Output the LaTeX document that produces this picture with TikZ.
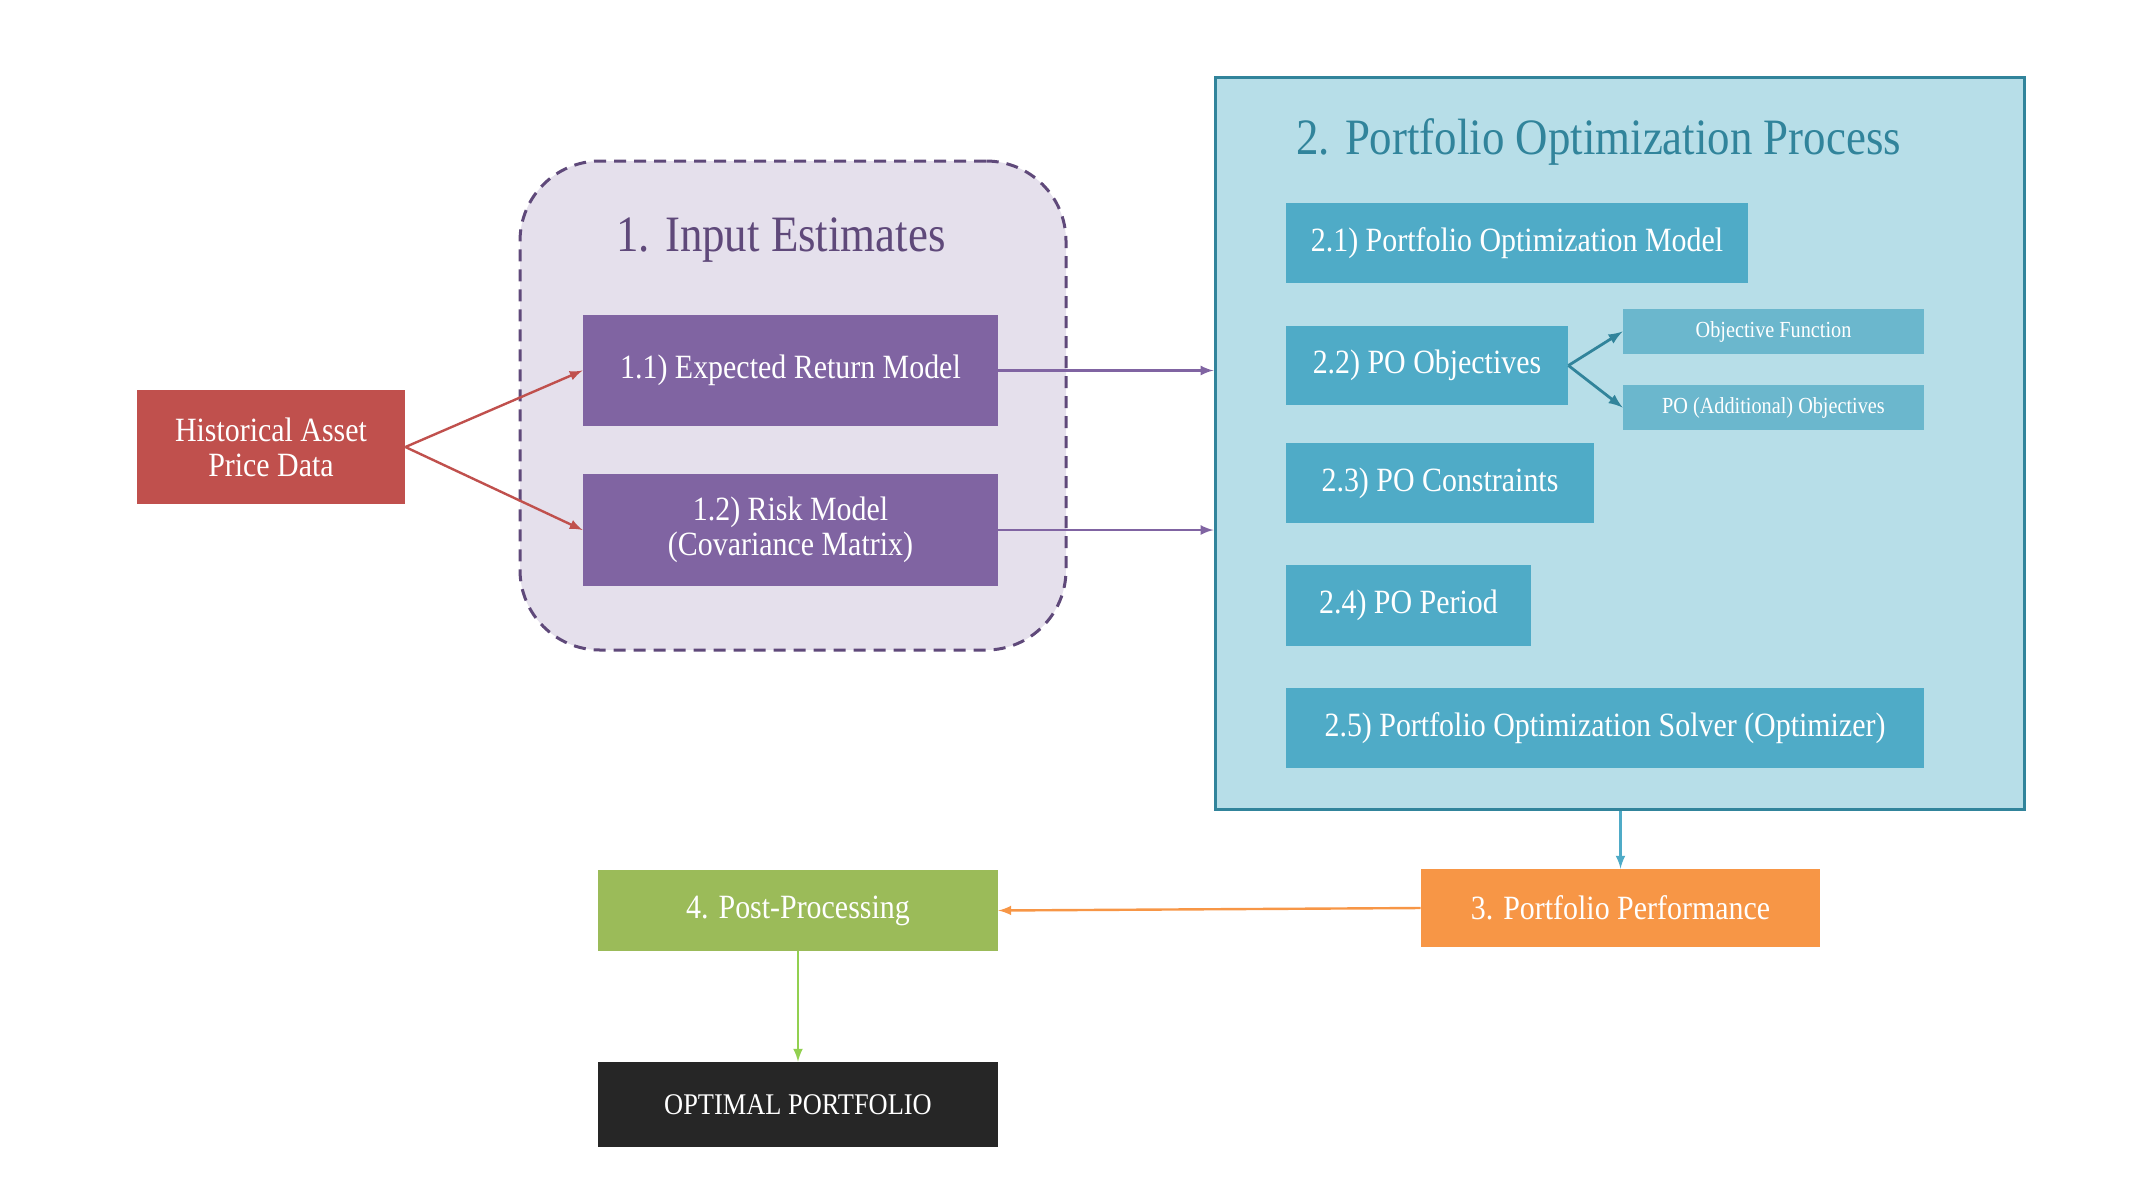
\documentclass[tikz,border=0pt]{standalone}
\usepackage{fontspec}
\setmainfont[FakeStretch=0.88]{Liberation Serif}
\usepackage{tikz}
\usetikzlibrary{positioning,shapes,arrows}

\definecolor{histred}{HTML}{C0504D}
\definecolor{inputlav}{HTML}{E5E0EC}
\definecolor{inputdark}{HTML}{5F497A}
\definecolor{inputfill}{HTML}{8064A2}
\definecolor{procbg}{HTML}{B7DEE8}
\definecolor{procdark}{HTML}{31849B}
\definecolor{procfill}{HTML}{4FABC7}
\definecolor{procsub}{HTML}{6BB7CD}
\definecolor{perforange}{HTML}{F79646}
\definecolor{postgreen}{HTML}{9BBB59}
\definecolor{optgreen}{HTML}{92D050}
\definecolor{optdark}{HTML}{262626}

\tikzstyle{object}=[rectangle, inner sep=0pt, text centered, align=center, text=white,
        font=\fontsize{17}{17.5}\selectfont]
\tikzstyle{histbox}=[object, fill=histred]
\tikzstyle{inputbox}=[object, fill=inputfill]
\tikzstyle{procbox}=[object, fill=procfill]
\tikzstyle{subbox}=[object, fill=procsub, font=\fontsize{11.5}{14}\selectfont]
\tikzstyle{group}=[rectangle, inner sep=0pt, line width=1.5pt]
\tikzstyle{title}=[inner sep=0pt, font=\fontsize{25.5}{30}\selectfont]
\tikzstyle{link}=[-latex, line width=1.2pt]

\begin{document}
\begin{tikzpicture}[x=0.5pt, y=-0.5pt]
        \useasboundingbox (0,0) rectangle (2146,1200);
        % groups
        \node (input) [group, draw=inputdark, fill=inputlav, dashed, dash pattern=on 6pt off 4pt,
          rounded corners=40pt, minimum width=273pt, minimum height=244.5pt] at (793,405.5) {};
        \node (process) [group, draw=procdark, fill=procbg,
          minimum width=404.5pt, minimum height=366pt] at (1619.5,443) {};
        \node (inputtitle) [title, text=inputdark] at (781,240) {1. Input Estimates};
        \node (proctitle) [title, text=procdark, anchor=west] at (1296,142) {2. Portfolio Optimization Process};

        % boxes
        \node (hist) [histbox, minimum width=134pt, minimum height=57pt] at (271,447)
        {Historical Asset\\Price Data};
        \node (ret) [inputbox, minimum width=207.5pt, minimum height=55.5pt] at (790.5,370.5)
        {1.1) Expected Return Model};
        \node (risk) [inputbox, minimum width=207.5pt, minimum height=56pt] at (790.5,530)
        {1.2) Risk Model\\(Covariance Matrix)};
        \node (model) [procbox, minimum width=231pt, minimum height=40pt] at (1517,243)
        {2.1) Portfolio Optimization Model};
        \node (objectives) [procbox, minimum width=141pt, minimum height=39.5pt] at (1427,365.5)
        {2.2) PO Objectives};
        \node (objfun) [subbox, minimum width=150.5pt, minimum height=22.5pt] at (1773.5,331.5)
        {Objective Function};
        \node (objadd) [subbox, minimum width=150.5pt, minimum height=22.5pt] at (1773.5,407.5)
        {PO (Additional) Objectives};
        \node (constraints) [procbox, minimum width=154pt, minimum height=40pt] at (1440,483)
        {2.3) PO Constraints};
        \node (period) [procbox, minimum width=122.5pt, minimum height=40.5pt] at (1408.5,605.5)
        {2.4) PO Period};
        \node (solver) [procbox, minimum width=319pt, minimum height=40pt] at (1605,728)
        {2.5) Portfolio Optimization Solver (Optimizer)};
        \node (perf) [object, fill=perforange, minimum width=199.5pt, minimum height=39pt] at (1620.5,908)
        {3. Portfolio Performance};
        \node (post) [object, fill=postgreen, minimum width=200pt, minimum height=40.5pt] at (798,910.5)
        {4. Post-Processing};
        \node (optimal) [object, fill=optdark, minimum width=200pt, minimum height=42.5pt,
          font=\fontsize{15}{17}\selectfont] at (798,1104.5)
        {OPTIMAL PORTFOLIO};

        % connectors
        \draw [link, histred] (hist.east) -- (ret.west);
        \draw [link, histred] (hist.east) -- (risk.west);
        \draw [link, inputfill] (ret.east) -- (ret.east -| process.west);
        \draw [link, inputfill] (risk.east) -- (risk.east -| process.west);
        \draw [link, procdark, line width=1.4pt] (objectives.east) -- (objfun.west);
        \draw [link, procdark, line width=1.4pt] (objectives.east) -- (objadd.west);
        \draw [link, procfill] (perf.north |- process.south) -- (perf.north);
        \draw [link, perforange] (perf.west) -- (post.east);
        \draw [link, optgreen] (post.south) -- (optimal.north);
      \end{tikzpicture}
\end{document}
